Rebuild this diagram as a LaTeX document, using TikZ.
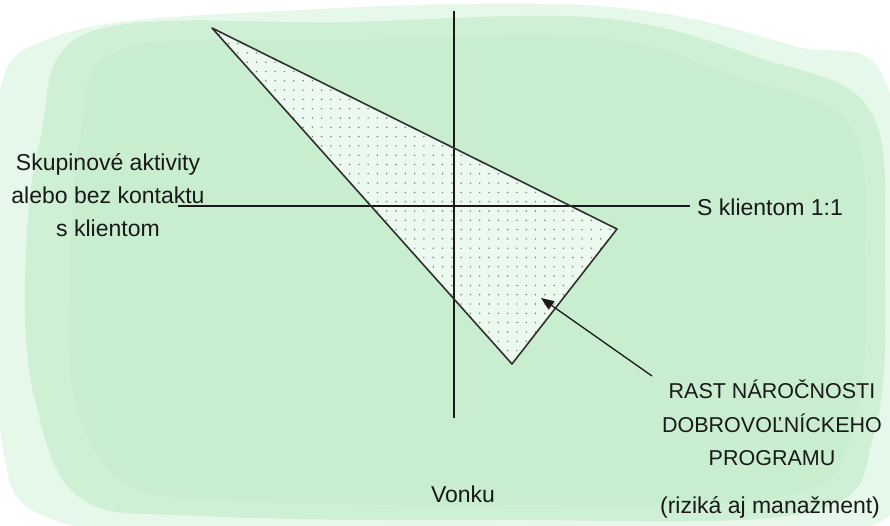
\documentclass[tikz,border=0pt]{standalone}
\usepackage{fontspec}
\setmainfont{Liberation Sans}
\usetikzlibrary{arrows.meta, positioning}

\definecolor{wash}{RGB}{200,238,207}
\definecolor{palewash}{RGB}{230,248,234}
\definecolor{tri}{RGB}{236,249,238}
\definecolor{ink}{RGB}{25,25,25}

\begin{document}
\begin{tikzpicture}[
    x=1pt, y=-1pt,
    label/.style={inner sep=0pt, align=center, text=ink,
        font=\fontsize{23}{33}\selectfont},
    caps/.style={label, font=\fontsize{21.5}{33.5}\selectfont},
    axis/.style={draw=ink, line width=1.1pt},
    arrow/.style={-{Triangle[length=13pt, width=10pt]}, draw=ink, line width=1.3pt}
]
\useasboundingbox (0,0) rectangle (890,526);

% background
\fill[white] (0,0) rectangle (890,526);
\begin{scope}
\clip (0,0) rectangle (890,526);
\fill[palewash] plot[smooth cycle, tension=0.6] coordinates {
    (60,35) (300,10) (600,6) (790,45) (890,95) (895,430)
    (830,535) (300,535) (60,522) (0,430) (-5,120)};
\fill[wash!75!palewash] plot[smooth cycle, tension=0.6] coordinates {
    (90,32) (350,22) (600,18) (760,58) (870,110) (885,260)
    (875,430) (810,512) (500,520) (200,516) (80,498) (35,400)
    (25,280) (40,140)};
\fill[wash] plot[smooth cycle, tension=0.6] coordinates {
    (120,50) (350,40) (600,38) (740,78) (850,125) (865,260)
    (855,420) (790,495) (500,505) (220,500) (120,480) (75,400)
    (70,280) (80,140)};
\end{scope}

% axes
\coordinate (top) at (454,11);
\coordinate (bottom) at (454,418);
\coordinate (left) at (178,206);
\coordinate (right) at (690,206);

% triangle
\coordinate (T1) at (212,28);
\coordinate (T2) at (617,229);
\coordinate (T3) at (512,364);

\fill[tri] (T1) -- (T2) -- (T3) -- cycle;
\begin{scope}
  \clip (T1) -- (T2) -- (T3) -- cycle;
  \foreach \i in {0,...,44}
    \foreach \j in {0,...,38}
      \fill[ink!60] (210+9.3*\i, 25+9.3*\j) circle (0.8);
\end{scope}

\draw[axis] (top) -- (bottom);
\draw[axis] (left) -- (right);
\draw[draw=ink!90, line width=1.6pt, line join=round] (T1) -- (T2) -- (T3) -- cycle;

% labels
\node[label] (group) at (108,195) {Skupinové aktivity\\alebo bez kontaktu\\s klientom};
\node[label, anchor=west] (client) at (697,207) {S klientom 1:1};
\node[caps] (growth) at (772,423) {RAST NÁROČNOSTI\\DOBROVOĽNÍCKEHO\\PROGRAMU};
\node[label] (risk) at (770,507) {(riziká aj manažment)};
\node[label] (out) at (463,494) {Vonku};

\coordinate (from) at (652,376);
\coordinate (tip) at (541,298);
\draw[arrow] (from) -- (tip);
\end{tikzpicture}
\end{document}
